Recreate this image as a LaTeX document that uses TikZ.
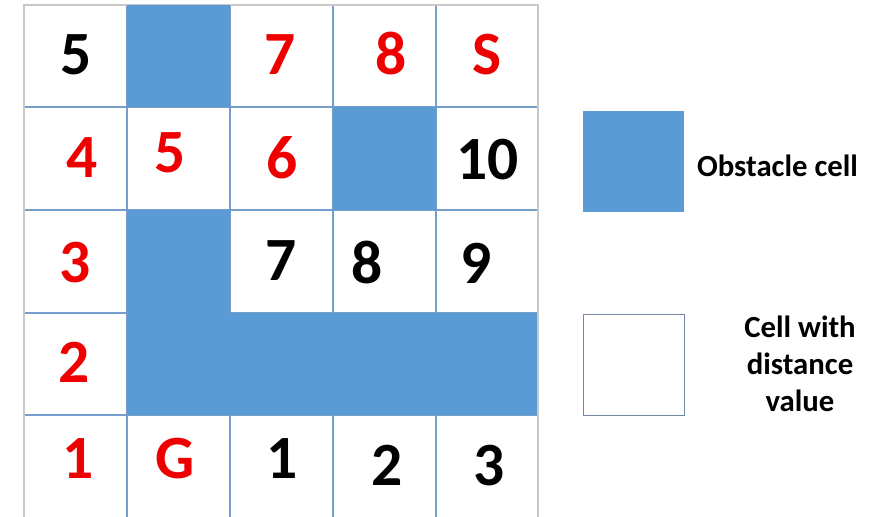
\documentclass[tikz,border=0pt]{standalone}
\usepackage{fontspec}
\setmainfont{Carlito}

\definecolor{obstblue}{RGB}{91,155,213}
\definecolor{gridblue}{RGB}{118,158,204}
\definecolor{edgegray}{RGB}{200,200,200}
\definecolor{pathred}{RGB}{238,0,0}
\definecolor{boxedge}{RGB}{112,136,164}

\begin{document}
\begin{tikzpicture}[x=0.02cm, y=-0.02cm,
    obst/.style={fill=obstblue},
    gl/.style={draw=gridblue, line width=0.85pt},
    num/.style={anchor=base, inner sep=0pt, font=\fontsize{35}{40}\selectfont\bfseries},
    onpath/.style={text=pathred},
    lgbox/.style={minimum size=2.03cm, inner sep=0pt},
    lbl/.style={inner sep=0pt, align=center, font=\fontsize{17.5}{21}\selectfont\bfseries}
]

    \useasboundingbox[fill=white] (0,0) rectangle (882,517);

    % grid lines
    \foreach \x in {127,230,333,436}
        \draw[gl] (\x,5) -- (\x,517);
    \foreach \y in {107,210,313,415}
        \draw[gl] (24,\y) -- (538,\y);
    \draw[edgegray, line width=0.85pt] (24,517) -- (24,5) -- (538,5) -- (538,517);

    % obstacles
    \fill[obst] (127,5) rectangle (230,107);
    \fill[obst] (333,107) rectangle (436,210);
    \fill[obst] (127,210) rectangle (230,415);
    \fill[obst] (230,313) rectangle (537,415);

    % row 1
    \node[num] (a1) at (76,75) {5};
    \node[num, onpath] (a3) at (280,75) {7};
    \node[num, onpath] (a4) at (391,75) {8};
    \node[num, onpath] (a5) at (487,75) {S};

    % row 2
    \node[num, onpath] (b1) at (82,177) {4};
    \node[num, onpath] (b2) at (170,173) {5};
    \node[num, onpath] (b3) at (282,178) {6};
    \node[num] (b5) at (487.5,179) {10};

    % row 3
    \node[num, onpath] (c1) at (75,282) {3};
    \node[num] (c3) at (281,280) {7};
    \node[num] (c4) at (367.5,283) {8};
    \node[num] (c5) at (476,283) {9};

    % row 4
    \node[num, onpath] (d1) at (74,382) {2};

    % row 5
    \node[num, onpath] (e1) at (78.5,478) {1};
    \node[num, onpath] (e2) at (175.5,478) {G};
    \node[num] (e3) at (282,478) {1};
    \node[num] (e4) at (387,485) {2};
    \node[num] (e5) at (489.5,485) {3};

    % legend
    \node[lgbox, fill=obstblue] (lgobst) at (633.5,161.5) {};
    \node[lgbox, draw=boxedge, line width=0.85pt, fill=white] (lgfree) at (634,365) {};

    \node[lbl, anchor=base] (lgobsttext) at (777.5,176.7) {Obstacle cell};
    \node[lbl] (lgfreetext) at (800,364) {Cell with\\distance\\value};

\end{tikzpicture}
\end{document}
